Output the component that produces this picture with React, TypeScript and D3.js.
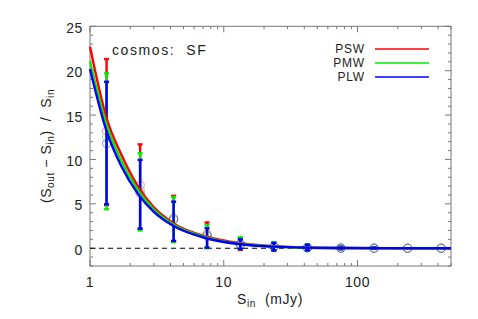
import React from "react";
import * as d3 from "d3";

// bin centres (mJy)
const xBins = [1.33, 2.37, 4.22, 7.5, 13.3, 23.7, 42.2, 75, 133, 237, 422];

// mean (open circles)
const pswMean = [13.2, 7.1, 3.4, 1.6, 0.5, 0.2, 0.08, 0.02, 0.01, 0, 0];
const pmwMean = [12.5, 6.6, 3.3, 1.5, 0.45, 0.18, 0.07, 0.02, 0.01, 0, 0];
const plwMean = [11.8, 6.2, 3.2, 1.4, 0.4, 0.16, 0.06, 0.01, 0, 0, 0];

// error bar ends
const pswLo = [4.85, 2.2, 0.8, 0.05, -0.2, -0.3, -0.25, -0.1, -0.05, 0, 0];
const pswHi = [21.3, 11.7, 5.9, 2.9, 1.1, 0.6, 0.4, 0.15, 0.08, 0, 0];
const pmwLo = [4.4, 2.0, 0.68, 0.0, -0.1, -0.25, -0.25, -0.1, -0.05, 0, 0];
const pmwHi = [19.7, 10.7, 5.75, 2.6, 1.24, 0.68, 0.45, 0.2, 0.1, 0, 0];
const plwLo = [4.95, 2.2, 0.82, 0.07, -0.1, -0.25, -0.25, -0.1, -0.05, 0, 0];
const plwHi = [18.75, 9.95, 5.25, 2.25, 1.0, 0.6, 0.4, 0.15, 0.08, 0, 0];

// fitted curves
const fitX = [1, 1.33, 1.72, 2.29, 3.0, 4.22, 7.5, 13.3, 23.7, 42, 75, 150, 500];
const pswFit = [22.7, 14.65, 10.5, 6.95, 4.6, 2.8, 1.3, 0.56, 0.22, 0.08, 0.03, 0.01, 0];
const pmwFit = [21.0, 13.9, 9.8, 6.5, 4.35, 2.65, 1.2, 0.5, 0.2, 0.07, 0.025, 0.008, 0];
const plwFit = [20.2, 13.2, 9.2, 6.1, 4.1, 2.5, 1.1, 0.45, 0.18, 0.06, 0.02, 0.006, 0];

const yMajor = [0, 5, 10, 15, 20, 25];
const xMajor = [1, 10, 100];

const series = [
  { name: "PSW", color: "#ff0000", mean: pswMean, lo: pswLo, hi: pswHi, fit: pswFit },
  { name: "PMW", color: "#00ee00", mean: pmwMean, lo: pmwLo, hi: pmwHi, fit: pmwFit },
  { name: "PLW", color: "#0000ff", mean: plwMean, lo: plwLo, hi: plwHi, fit: plwFit },
];

const W = 478;
const H = 319;
const font = "'Liberation Sans', Arial, sans-serif";

export default function App() {
  const left = 90, right = 451, top = 26.3, bottom = 266;
  const x = d3.scaleLog().domain([1, 500]).range([left, right]);
  const y = d3.scaleLinear().domain([-2, 25]).range([bottom, top]);

  const yMinor = d3.range(-2, 26);
  const xTicks = x.ticks().filter((t) => t >= 1 && t <= 500);

  const line = d3
    .line<number>()
    .x((_, i) => x(fitX[i]))
    .y((d) => y(d))
    .curve(d3.curveMonotoneX);

  const axisColor = "#777";

  return (
    <svg width={W} height={H} style={{ position: "absolute", left: 0, top: 0, background: "#fff" }} fontFamily={font}>
      {/* frame */}
      <rect x={left} y={top} width={right - left} height={bottom - top} fill="none" stroke={axisColor} strokeWidth={1} />

      {/* y ticks */}
      {yMinor.map((v) => {
        const major = yMajor.includes(v);
        const len = major ? 6 : 3;
        return (
          <g key={"y" + v}>
            <line x1={left} x2={left + len} y1={y(v)} y2={y(v)} stroke={axisColor} />
            <line x1={right} x2={right - len} y1={y(v)} y2={y(v)} stroke={axisColor} />
          </g>
        );
      })}
      {yMajor.map((v) => (
        <text key={"yl" + v} x={83} y={y(v) + 1.5} textAnchor="end" dominantBaseline="central" fontSize={14} fill="#222" letterSpacing={0.6}>
          {v}
        </text>
      ))}

      {/* x ticks */}
      {xTicks.map((v) => {
        const major = xMajor.includes(v);
        const len = major ? 6 : 3;
        return (
          <g key={"x" + v}>
            <line x1={x(v)} x2={x(v)} y1={bottom} y2={bottom - len} stroke={axisColor} />
            <line x1={x(v)} x2={x(v)} y1={top} y2={top + len} stroke={axisColor} />
          </g>
        );
      })}
      {xMajor.map((v) => (
        <text key={"xl" + v} x={x(v)} y={287} textAnchor="middle" fontSize={14} fill="#222" letterSpacing={0.6}>
          {v}
        </text>
      ))}

      {/* zero line */}
      <line x1={left} x2={right} y1={y(0)} y2={y(0)} stroke="#000" strokeWidth={1.2} strokeDasharray="5,4" />

      {/* circles */}
      {series.map((s) =>
        s.mean.map((m, i) => (
          <circle key={s.name + "c" + i} cx={x(xBins[i])} cy={y(m)} r={4.2} fill="none" stroke={s.color} strokeOpacity={0.45} strokeWidth={1} />
        ))
      )}

      {/* error bars */}
      {series.map((s) =>
        xBins.map((b, i) => {
          if (s.hi[i] === s.lo[i]) return null;
          const cx = x(b);
          return (
            <g key={s.name + "e" + i} stroke={s.color}>
              <line x1={cx} x2={cx} y1={y(s.lo[i])} y2={y(s.hi[i])} strokeWidth={2.4} />
              <line x1={cx - 2.5} x2={cx + 2.5} y1={y(s.lo[i])} y2={y(s.lo[i])} strokeWidth={2.4} />
              <line x1={cx - 2.5} x2={cx + 2.5} y1={y(s.hi[i])} y2={y(s.hi[i])} strokeWidth={2.4} />
            </g>
          );
        })
      )}

      {/* fits */}
      {series.map((s) => (
        <path key={s.name + "f"} d={line(s.fit) || ""} fill="none" stroke={s.color} strokeWidth={2.4} />
      ))}

      {/* label */}
      <text x={112} y={55} fontSize={14} fill="#222" letterSpacing={1.6} style={{ whiteSpace: "pre" }}>
        {"cosmos:  SF"}
      </text>

      {/* legend */}
      {series.map((s, i) => (
        <g key={s.name + "l"}>
          <text x={365} y={49 + i * 14} textAnchor="end" dominantBaseline="central" fontSize={12} fill="#222" letterSpacing={0.8}>
            {s.name}
          </text>
          <line x1={375} x2={429} y1={49 + i * 14} y2={49 + i * 14} stroke={s.color} strokeWidth={1.5} />
        </g>
      ))}

      {/* x title */}
      <text x={270} y={304} textAnchor="middle" fontSize={14} fill="#222" letterSpacing={0.6} style={{ whiteSpace: "pre" }}>
        S<tspan fontSize={10} dy={3}>in</tspan>
        <tspan dy={-3}>{"  (mJy)"}</tspan>
      </text>

      {/* y title */}
      <text transform="translate(51,146) rotate(-90)" textAnchor="middle" fontSize={14} fill="#222" letterSpacing={0.6} style={{ whiteSpace: "pre" }}>
        (S<tspan fontSize={10} dy={3}>out</tspan>
        <tspan dy={-3}>{" − S"}</tspan>
        <tspan fontSize={10} dy={3}>in</tspan>
        <tspan dy={-3}>{")  /  S"}</tspan>
        <tspan fontSize={10} dy={3}>in</tspan>
      </text>
    </svg>
  );
}
